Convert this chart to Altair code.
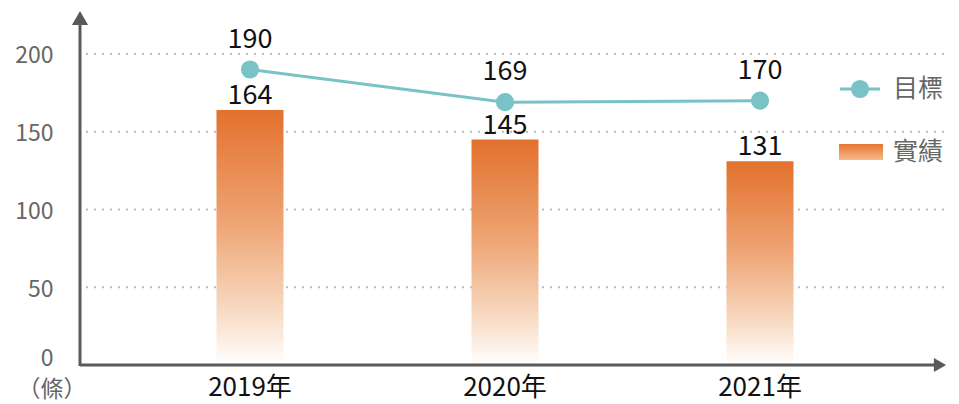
import altair as alt
import pandas as pd

years = ["2019年", "2020年", "2021年"]
actual = [164, 145, 131]
target = [190, 169, 170]
y_ticks = [0, 50, 100, 150, 200]

df = pd.DataFrame({"year": years, "actual": actual, "target": target})

FONT = "Noto Sans CJK TC"
GRAY = "#666666"
AXIS = "#5a5a5a"
TEAL = "#79c2c5"

xs = alt.Scale(domain=years, paddingInner=0, paddingOuter=0.196, align=0.425)
ys = alt.Scale(domain=[0, 227], nice=False)

X = alt.X("year:N", scale=xs, sort=years,
          axis=alt.Axis(title=None, domain=False, ticks=False, labelAngle=0,
                        labelFont=FONT, labelFontSize=26, labelColor="#111111",
                        labelPadding=9))

base = alt.Chart(df)

grid = alt.Chart(pd.DataFrame({"v": y_ticks[1:]})).mark_rule(
    color="#bbbbbb", strokeDash=[2, 6], strokeWidth=2
).encode(
    y=alt.Y("v:Q", scale=ys,
            axis=alt.Axis(title=None, values=y_ticks, domain=False, ticks=False,
                          grid=False, labelFont=FONT, labelFontSize=23,
                          labelColor=GRAY, labelPadding=27,
                          labelOffset={"expr": "datum.value == 0 ? -7 : 2"})),
    x=alt.value(6), x2=alt.value(865),
)

grad = {"gradient": "linear", "x1": 0, "y1": 0, "x2": 0, "y2": 1,
        "stops": [{"offset": 0, "color": "#e3712d"},
                  {"offset": 0.45, "color": "#eea575"},
                  {"offset": 0.8, "color": "#f8dcc6"},
                  {"offset": 1, "color": "#ffffff"}]}

bars = base.mark_bar(width=67, color=grad).encode(
    x=X, y=alt.Y("actual:Q", scale=ys), y2=alt.datum(0)
)

bar_labels = base.mark_text(font=FONT, fontSize=27, color="#111111",
                            baseline="alphabetic", dy=-6).encode(
    x=X, y=alt.Y("actual:Q", scale=ys), text="actual:Q"
)

line = base.mark_line(color=TEAL, strokeWidth=3).encode(
    x=X, y=alt.Y("target:Q", scale=ys)
)
points = base.mark_point(filled=True, color=TEAL, size=330, opacity=1).encode(
    x=X, y=alt.Y("target:Q", scale=ys)
)
line_labels = base.mark_text(font=FONT, fontSize=27, color="#111111",
                             baseline="alphabetic", dy=-22).encode(
    x=X, y=alt.Y("target:Q", scale=ys), text="target:Q"
)

# axes with arrows
one = pd.DataFrame({"a": [0]})
x_axis = alt.Chart(one).mark_rule(color=AXIS, strokeWidth=3).encode(
    x=alt.value(0), x2=alt.value(858), y=alt.datum(0)
)
y_axis = alt.Chart(one).mark_rule(color=AXIS, strokeWidth=3).encode(
    x=alt.value(0), y=alt.value(8), y2=alt.value(354)
)
up_arrow = alt.Chart(one).mark_point(
    shape="triangle-up", filled=True, color=AXIS, size=260, opacity=1
).encode(x=alt.value(0), y=alt.value(6))
right_arrow = alt.Chart(one).mark_point(
    shape="triangle-right", filled=True, color=AXIS, size=200, opacity=1
).encode(x=alt.value(860), y=alt.datum(0))

unit = alt.Chart(pd.DataFrame({"t": ["（條）"]})).mark_text(
    font=FONT, fontSize=23, color=GRAY, align="center", baseline="middle"
).encode(x=alt.value(-28), y=alt.value(378), text="t:N")

# legend
leg_line = alt.Chart(one).mark_rule(color=TEAL, strokeWidth=3).encode(
    x=alt.value(760), x2=alt.value(800), y=alt.value(77)
)
leg_pt = alt.Chart(one).mark_point(
    filled=True, color=TEAL, size=330, opacity=1
).encode(x=alt.value(780), y=alt.value(77))
leg_grad = {"gradient": "linear", "x1": 0, "y1": 0, "x2": 0, "y2": 1,
            "stops": [{"offset": 0, "color": "#e5762f"},
                      {"offset": 1, "color": "#f5b98b"}]}
leg_rect = alt.Chart(one).mark_rect(color=leg_grad).encode(
    x=alt.value(759), x2=alt.value(803), y=alt.value(132), y2=alt.value(148)
)
leg_text = alt.Chart(pd.DataFrame({"t": ["目標", "實績"], "py": [77, 140]})).mark_text(
    font=FONT, fontSize=25, color=GRAY, align="left", baseline="middle"
).encode(x=alt.value(813), y=alt.Y("py:Q", scale=None), text="t:N")

chart = alt.layer(
    grid, bars, line, points, bar_labels, line_labels,
    x_axis, y_axis, up_arrow, right_arrow, unit,
    leg_line, leg_pt, leg_rect, leg_text
).properties(
    width=865, height=353,
    autosize=alt.AutoSizeParams(type="none"),
    padding={"left": 72, "top": 4, "right": 6, "bottom": 38},
).configure_view(stroke=None)

chart.save("out.html", embed_options={"renderer": "svg", "actions": False})
